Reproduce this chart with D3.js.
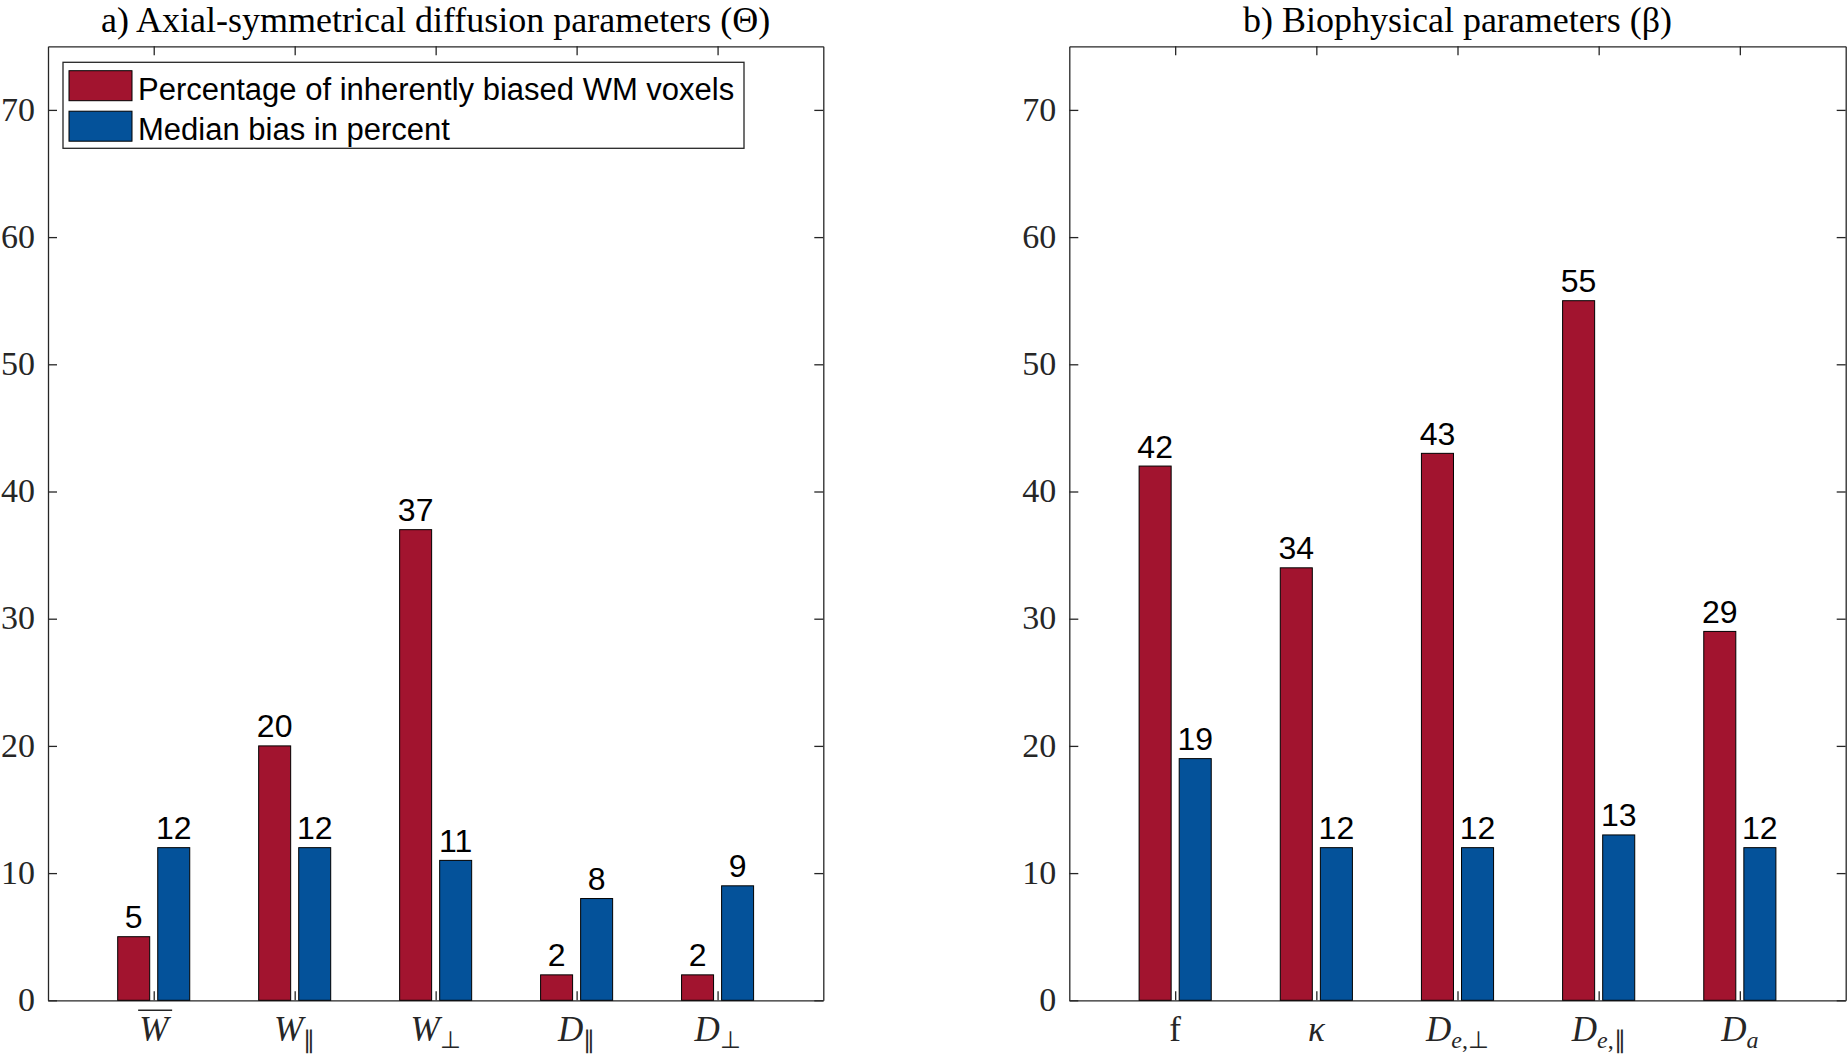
<!DOCTYPE html>
<html lang="en">
<head>
	<meta charset="UTF-8">
	<title>Bias bar charts</title>
	<style>
		body{ margin:0; background:#fff; }
		.axis path, .axis line{
			fill: none;
			stroke: #262626;
			stroke-width: 1.3px;
		}
		.axis text{
			font-family: "Liberation Serif", serif;
			font-size: 34px;
			fill: #262626;
		}
		.cat{ font-family: "Liberation Serif", serif; font-size: 35px; fill: #262626; }
		.val{ font-family: "Liberation Sans", Arial, sans-serif; font-size: 32px; fill: #000; }
		.title{ font-family: "Liberation Serif", serif; font-size: 36px; fill: #000; }
		.legend text{ font-family: "Liberation Sans", Arial, sans-serif; font-size: 31px; fill: #000; }
	</style>
</head>
<body>
	<script src="https://d3js.org/d3.v7.min.js"></script>
	<script>
		var width = 1848;
		var height = 1057;

		// data
		var seriesNames = ['Percentage of inherently biased WM voxels', 'Median bias in percent'];
		var colors = ['#A2142F', '#04529A'];
		var yTicks = [0, 10, 20, 30, 40, 50, 60, 70];

		var leftTitle = 'a) Axial-symmetrical diffusion parameters (\u0398)';
		var leftBase = ['W', 'W', 'W', 'D', 'D'];
		var leftSub = ['', '\u2225', '\u22A5', '\u2225', '\u22A5'];
		var leftOver = [true, false, false, false, false];
		var leftPct = [5, 20, 37, 2, 2];
		var leftBias = [12, 12, 11, 8, 9];

		var rightTitle = 'b) Biophysical parameters (\u03B2)';
		var rightBase = ['f', '\u03BA', 'D', 'D', 'D'];
		var rightSub = ['', '', 'e,\u22A5', 'e,\u2225', 'a'];
		var rightOver = [false, false, false, false, false];
		var rightPct = [42, 34, 43, 55, 29];
		var rightBias = [19, 12, 12, 13, 12];

		var svg = d3.select('body')
					.append('svg')
					.attr('width', width)
					.attr('height', height);

		var plotTop = 46.3, plotBottom = 1000.3;
		var y = d3.scaleLinear().domain([0, 75]).range([plotBottom, plotTop]);

		function panel(x0, x1, title, base, sub, over, pct, bias, legend){
			var x = d3.scaleLinear().domain([0.25, 5.75]).range([x0, x1]);
			var cats = d3.range(1, 6);
			var g = svg.append('g');

			// axes (ticks point inward like matlab)
			g.append('g').attr('class', 'axis').attr('transform', 'translate(' + x0 + ',0)')
				.call(d3.axisLeft(y).tickValues(yTicks).tickSizeInner(-9).tickSizeOuter(0).tickPadding(13));
			g.append('g').attr('class', 'axis').attr('transform', 'translate(' + x1 + ',0)')
				.call(d3.axisRight(y).tickValues(yTicks).tickSizeInner(-9).tickSizeOuter(0).tickFormat(''));
			g.append('g').attr('class', 'axis').attr('transform', 'translate(0,' + plotTop + ')')
				.call(d3.axisTop(x).tickValues(cats).tickSizeInner(-9).tickSizeOuter(0).tickFormat(''));
			g.append('g').attr('class', 'axis').attr('transform', 'translate(0,' + plotBottom + ')')
				.call(d3.axisBottom(x).tickValues(cats).tickSizeInner(-9).tickSizeOuter(0).tickFormat(''));
			g.selectAll('.axis .tick text').attr('dy', '0.30em');

			// bars
			var off = 0.142, bw = 0.227;
			[pct, bias].forEach(function(vals, s){
				var xs = s === 0 ? -off : off;
				g.selectAll('rect.s' + s)
					.data(vals)
					.enter()
					.append('rect')
					.attr('class', 's' + s)
					.attr('x', function(d, i){ return x(i + 1 + xs - bw / 2); })
					.attr('y', function(d){ return y(d); })
					.attr('width', x(bw) - x(0))
					.attr('height', function(d){ return y(0) - y(d); })
					.attr('fill', colors[s])
					.attr('stroke', '#000')
					.attr('stroke-width', 1);
				g.selectAll('text.v' + s)
					.data(vals)
					.enter()
					.append('text')
					.attr('class', 'val v' + s)
					.attr('x', function(d, i){ return x(i + 1 + xs); })
					.attr('y', function(d){ return y(d) - 8.5; })
					.attr('text-anchor', 'middle')
					.text(function(d){ return d; });
			});

			// category labels
			cats.forEach(function(c, i){
				var t = g.append('text')
					.attr('class', 'cat')
					.attr('x', x(c))
					.attr('y', plotBottom + 41)
					.attr('text-anchor', 'middle');
				var b = t.append('tspan').text(base[i]);
				if (base[i] !== 'f') b.attr('font-style', 'italic');
				sub[i].split('').forEach(function(ch, k){
					var s = t.append('tspan')
						.attr('font-size', '24px')
						.attr('font-style', /[a-z]/.test(ch) ? 'italic' : 'normal')
						.text(ch);
					if (k === 0) s.attr('dy', '0.28em');
				});
				if (over[i]) {
					var bb = b.node().getBBox();
					g.append('line')
						.attr('x1', bb.x - 1).attr('x2', bb.x + bb.width + 1)
						.attr('y1', bb.y).attr('y2', bb.y)
						.attr('stroke', '#262626').attr('stroke-width', 1.5);
				}
			});

			g.append('text')
				.attr('class', 'title')
				.attr('x', (x0 + x1) / 2)
				.attr('y', 32)
				.attr('text-anchor', 'middle')
				.text(title);

			if (legend) {
				var lg = g.append('g').attr('class', 'legend');
				lg.append('rect')
					.attr('x', 63).attr('y', 62.3).attr('width', 681).attr('height', 86)
					.attr('fill', '#fff').attr('stroke', '#262626').attr('stroke-width', 1.3);
				seriesNames.forEach(function(n, s){
					lg.append('rect')
						.attr('x', 69).attr('y', 70.7 + s * 40.5)
						.attr('width', 63).attr('height', 30)
						.attr('fill', colors[s]).attr('stroke', '#000').attr('stroke-width', 1);
					lg.append('text')
						.attr('x', 138).attr('y', 99.5 + s * 40.5)
						.text(n);
				});
			}
		}

		panel(48, 823.3, leftTitle, leftBase, leftSub, leftOver, leftPct, leftBias, true);
		panel(1069.3, 1845.7, rightTitle, rightBase, rightSub, rightOver, rightPct, rightBias, false);
	</script>
</body>
</html>
